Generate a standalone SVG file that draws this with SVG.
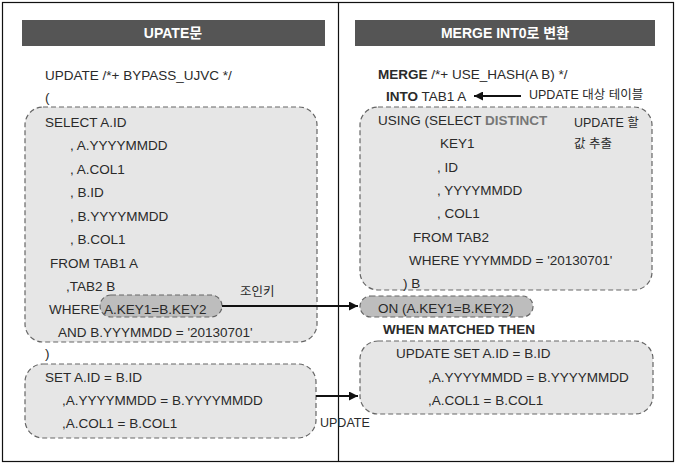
<svg xmlns="http://www.w3.org/2000/svg" width="677" height="466" viewBox="0 0 677 466">
<defs>
<style>
text{font-family:"Liberation Sans","Noto Sans CJK KR",sans-serif;font-size:13.5px;fill:#2a2a2a}
.hd{fill:#555}
.ht{fill:#fff;font-weight:bold;font-size:14px;text-anchor:middle}
.box{fill:#e6e6e6;stroke:#666;stroke-width:1.2;stroke-dasharray:5 3}
.pill{fill:#bdbdbd;stroke:#666;stroke-width:1.2;stroke-dasharray:5 3}
.b{font-weight:bold}
.g{fill:#777;font-weight:bold}
.ln{stroke:#111;stroke-width:2;fill:none}
.sm{font-size:12.5px}
</style>
<marker id="ah" viewBox="0 0 10 10" refX="10" refY="5" markerWidth="8" markerHeight="6" orient="auto" markerUnits="userSpaceOnUse">
<path d="M0,0 L10,5 L0,10 Z" fill="#111"/>
</marker>
<marker id="ah2" viewBox="0 0 10 10" refX="10" refY="5" markerWidth="16" markerHeight="9" orient="auto" markerUnits="userSpaceOnUse">
<path d="M0,0 L10,5 L0,10 Z" fill="#111"/>
</marker>
</defs>
<rect x="0" y="0" width="677" height="466" fill="#fff"/>
<rect x="2.5" y="2.5" width="671" height="459" fill="none" stroke="#111" stroke-width="1.2"/>
<line x1="338.5" y1="2.5" x2="338.5" y2="461.5" stroke="#111" stroke-width="1.2"/>

<g id="header-left"><rect class="hd" x="22" y="20" width="303" height="26"/><text class="ht" x="173" y="38">UPATE문</text></g>
<g id="header-right"><rect class="hd" x="355" y="20" width="300" height="26"/><text class="ht" x="505" y="38">MERGE INT0로 변환</text></g>

<g id="left-head">
<text x="45" y="80">UPDATE /*+ BYPASS_UJVC */</text>
<text x="45" y="102">(</text>
</g>

<g id="left-select">
<rect class="box" x="25" y="107" width="292" height="235" rx="18"/>
<text x="45" y="127">SELECT A.ID</text>
<text x="70" y="150">, A.YYYYMMDD</text>
<text x="70" y="174">, A.COL1</text>
<text x="70" y="197">, B.ID</text>
<text x="70" y="221">, B.YYYYMMDD</text>
<text x="70" y="244">, B.COL1</text>
<text x="50" y="268">FROM TAB1 A</text>
<text x="66" y="291">,TAB2 B</text>
<text x="49" y="314">WHERE</text>
<text x="58" y="337">AND B.YYYMMDD = '20130701'</text>
</g>
<g id="left-join">
<rect class="pill" x="100" y="295" width="122" height="22" rx="11"/>
<text x="104" y="314">A.KEY1=B.KEY2</text>
</g>
<g id="left-close"><text x="45" y="358">)</text></g>
<g id="left-set">
<rect class="box" x="25" y="364" width="291" height="74" rx="18"/>
<text x="45" y="382">SET A.ID = B.ID</text>
<text x="62" y="405">,A.YYYYMMDD =  B.YYYYMMDD</text>
<text x="62" y="428">,A.COL1 = B.COL1</text>
</g>

<g id="right-head">
<text x="378" y="79"><tspan class="b">MERGE</tspan> /*+ USE_HASH(A B) */</text>
<text x="386" y="101"><tspan class="b">INTO</tspan> TAB1 A</text>
<text class="sm" x="529" y="99">UPDATE 대상 테이블</text>
</g>

<g id="right-using">
<rect class="box" x="360" y="107" width="292" height="183" rx="18"/>
<text x="378" y="125">USING (SELECT <tspan class="g">DISTINCT</tspan></text>
<text class="sm" x="574" y="127">UPDATE 할</text>
<text class="sm" x="574" y="148">값 추출</text>
<text x="440" y="148">KEY1</text>
<text x="437" y="172">, ID</text>
<text x="437" y="195">, YYYYMMDD</text>
<text x="437" y="218">, COL1</text>
<text x="413" y="242">FROM TAB2</text>
<text x="409" y="265">WHERE YYYMMDD = '20130701'</text>
<text x="403" y="288">) B</text>
</g>
<g id="right-on">
<rect class="pill" x="360" y="296" width="173" height="21" rx="10.5"/>
<text x="378" y="313">ON (A.KEY1=B.KEY2)</text>
</g>
<g id="right-when"><text class="b" x="383" y="334">WHEN MATCHED THEN</text></g>
<g id="right-update">
<rect class="box" x="360" y="341" width="293" height="73" rx="18"/>
<text x="396" y="358">UPDATE  SET A.ID = B.ID</text>
<text x="428" y="382">,A.YYYYMMDD = B.YYYYMMDD</text>
<text x="428" y="405">,A.COL1 = B.COL1</text>
</g>

<g id="connectors">
<line class="ln" x1="222" y1="306" x2="358" y2="306" marker-end="url(#ah2)"/>
<text class="sm" x="240" y="296">조인키</text>
<line class="ln" x1="316" y1="396" x2="358" y2="396" marker-end="url(#ah2)"/>
<text class="sm" x="320" y="427">UPDATE</text>
<line class="ln" x1="521" y1="96" x2="474" y2="96" marker-end="url(#ah2)"/>
</g>
</svg>
